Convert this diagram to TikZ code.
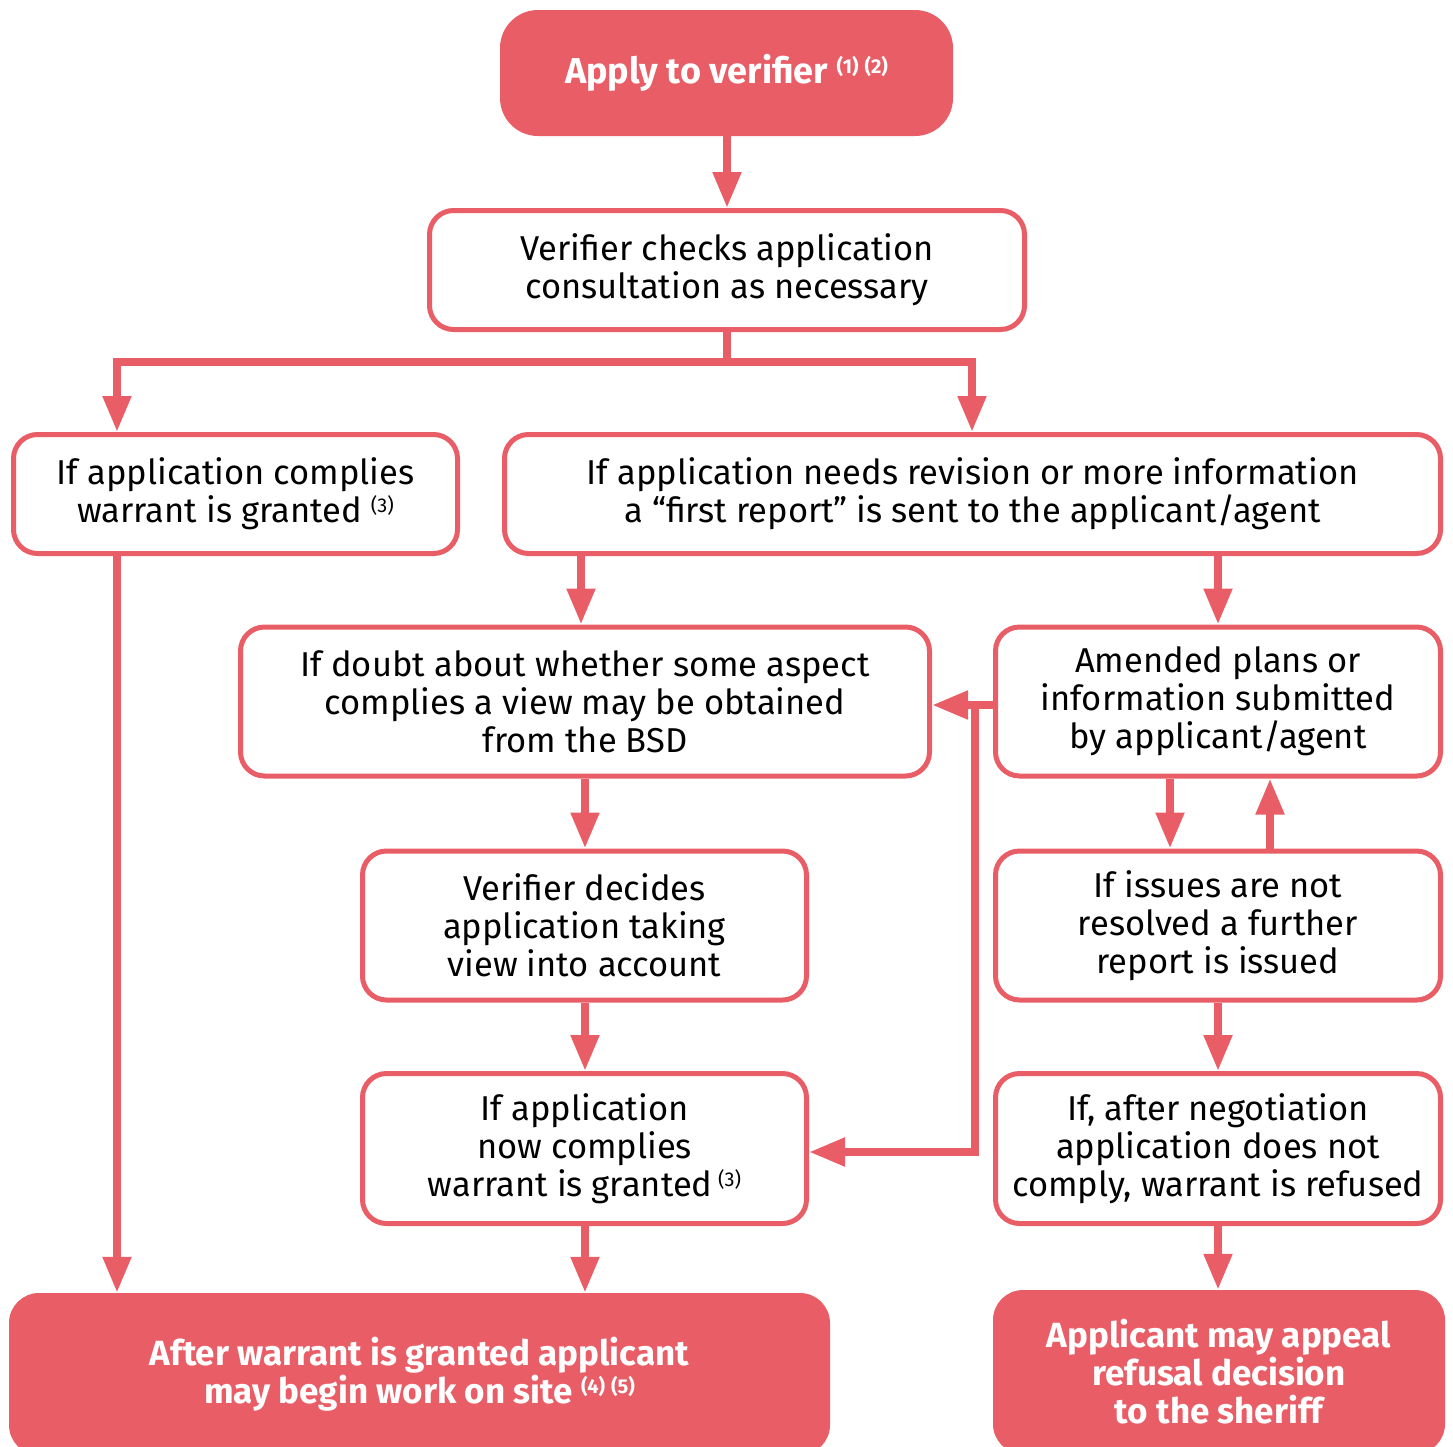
\documentclass[tikz,border=0pt]{standalone}
\usepackage{fontspec}
\setmainfont{Fira Sans}
\usetikzlibrary{arrows.meta}
\definecolor{coral}{RGB}{233,94,102}
\newcommand\bodyf{\fontsize{34.5}{37.8}\selectfont}
\newcommand\headf{\fontsize{35}{38}\selectfont\bfseries}
\newcommand\applyf{\fontsize{36}{38}\selectfont\bfseries}
\newcommand\supn[1]{\raisebox{10pt}{\fontsize{20}{20}\selectfont #1}}
\newcommand\supnn[2]{\raisebox{10pt}{\fontsize{20}{20}\selectfont #1\hspace{6pt}#2}}
\begin{document}
\begin{tikzpicture}[x=1pt,y=-1pt,
  box/.style={draw=coral, line width=5pt, rounded corners=24pt, fill=white, align=center, font=\bodyf, text=black, inner sep=0pt},
  hot/.style={fill=coral, rounded corners=38pt, align=center, font=\headf, text=white, inner sep=0pt},
  arr/.style={draw=coral, line width=8pt, line join=miter, -{Triangle[length=36pt,width=27pt]}},
  plain/.style={draw=coral, line width=8pt, line join=miter}]
\useasboundingbox (0,0) rectangle (1453,1446);
% nodes
\node[hot, font=\applyf, minimum width=453pt, minimum height=126pt] (apply) at (726.5,73) {Apply to verifier \supnn{(1)}{(2)}};
\node[box, minimum width=595pt, minimum height=119pt] (check) at (727,270) {Verifier checks application\\consultation as necessary};
\node[box, minimum width=444pt, minimum height=119pt] (comp) at (235.5,494) {If application complies\\warrant is granted \supn{(3)}};
\node[box, minimum width=936pt, minimum height=119pt] (rev) at (972.5,494) {If application needs revision or more information\\a “first report” is sent to the applicant/agent};
\node[box, minimum width=689pt, minimum height=149pt] (doubt) at (585,701.5) {If doubt about whether some aspect\\complies a view may be obtained\\from the BSD};
\node[box, minimum width=445pt, minimum height=149pt] (amend) at (1218,701.5) {Amended plans or\\information submitted\\by applicant/agent};
\node[box, minimum width=444pt, minimum height=149pt] (decide) at (584.5,925.5) {Verifier decides\\application taking\\view into account};
\node[box, minimum width=445pt, minimum height=149pt] (issues) at (1218,925.5) {If issues are not\\resolved a further\\report is issued};
\node[box, minimum width=444pt, minimum height=150pt] (now) at (584.5,1148.5) {If application\\now complies\\warrant is granted\,\supn{(3)}};
\node[box, minimum width=445pt, minimum height=150pt] (neg) at (1218,1148.5) {If, after negotiation\\application does not\\comply, warrant is refused};
\node[hot, rounded corners=30pt, minimum width=821pt, minimum height=162pt] (after) at (419.5,1374) {After warrant is granted applicant\\may begin work on site \supnn{(4)}{(5)}};
\node[hot, rounded corners=30pt, minimum width=452pt, minimum height=164pt] (appeal) at (1219,1372) {Applicant may appeal\\refusal decision\\to the sheriff};
% helper coordinates
\coordinate (xA) at (117,0);
\coordinate (xB) at (972,0);
\coordinate (xC) at (581,0);
\coordinate (xD) at (1218,0);
\coordinate (xE) at (585,0);
\coordinate (xF) at (1170,0);
\coordinate (xG) at (1270,0);
\coordinate (split) at (727,362);
\coordinate (jx) at (975,705);
\coordinate (yB) at (0,1152);
% connectors
\draw[arr] (apply.south -| split) -- (check.north -| split);
\draw[plain] (check.south -| split) -- (split);
\draw[arr] (split) -| (comp.north -| xA);
\draw[arr] (split) -| (rev.north -| xB);
\draw[arr] (comp.south -| xA) -- (after.north -| xA);
\draw[arr] (rev.south -| xC) -- (doubt.north -| xC);
\draw[arr] (rev.south -| xD) -- (amend.north -| xD);
\draw[arr] (doubt.south -| xE) -- (decide.north -| xE);
\draw[arr] (decide.south -| xE) -- (now.north -| xE);
\draw[arr] (now.south -| xE) -- (after.north -| xE);
\draw[arr] (amend.south -| xF) -- (issues.north -| xF);
\draw[arr] (issues.north -| xG) -- (amend.south -| xG);
\draw[arr] (issues.south -| xD) -- (neg.north -| xD);
\draw[arr] (neg.south -| xD) -- (appeal.north -| xD);
\draw[arr] (amend.west |- jx) -- (doubt.east |- jx);
\draw[arr] (jx) -- (jx |- yB) -- (now.east |- yB);
\end{tikzpicture}
\end{document}
